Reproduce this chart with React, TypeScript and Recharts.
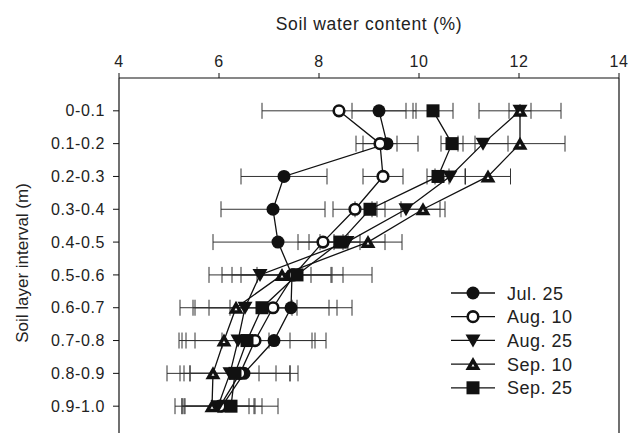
import React from 'react'
import {
  ScatterChart,
  Scatter,
  XAxis,
  YAxis,
  ErrorBar,
  ReferenceLine,
} from 'recharts'

const layers = ['0-0.1', '0.1-0.2', '0.2-0.3', '0.3-0.4', '0.4-0.5', '0.5-0.6', '0.6-0.7', '0.7-0.8', '0.8-0.9', '0.9-1.0']
const xTicks = [4, 6, 8, 10, 12, 14]

const jul25 = [9.2, 9.36, 7.3, 7.08, 7.18, 7.46, 7.44, 7.1, 6.5, 6.06]
const jul25Sd = [0.54, 0.62, 0.86, 1.04, 1.3, 1.02, 1.22, 1.04, 1.08, 0.8]
const aug10 = [8.4, 9.22, 9.28, 8.72, 8.08, 7.5, 7.08, 6.72, 6.42, 6.02]
const aug10Sd = [1.54, 0.34, 0.4, 0.44, 0.5, 0.74, 1.28, 1.2, 1.0, 0.7]
const aug25 = [12.02, 11.28, 10.62, 9.74, 8.56, 6.82, 6.52, 6.38, 6.22, 5.98]
const aug25Sd = [0.22, 0.5, 0.3, 0.68, 0.76, 1.02, 1.04, 1.04, 0.92, 0.72]
const sep10 = [12.02, 12.02, 11.38, 10.08, 8.98, 7.26, 6.34, 6.1, 5.88, 5.86]
const sep10Sd = [0.82, 0.9, 0.45, 0.44, 0.68, 1.0, 1.12, 0.9, 0.92, 0.74]
const sep25 = [10.28, 10.66, 10.38, 9.02, 8.42, 7.56, 6.86, 6.56, 6.32, 6.24]
const sep25Sd = [0.4, 0.22, 0.22, 0.3, 0.4, 1.5, 1.34, 1.3, 1.1, 0.94]

const toPoints = (vals: number[], sds: number[]) =>
  layers.map((_, i) => ({ x: vals[i], y: i + 1, err: sds[i] }))

const FONT = '"Liberation Sans", Arial, sans-serif'
const INK = '#111'
const TXT = '#222'

// marker shapes
const FilledCircle = ({ cx, cy }: any) => <circle cx={cx} cy={cy} r={6.5} fill={INK} />
const OpenCircle = ({ cx, cy }: any) => (
  <circle cx={cx} cy={cy} r={5.3} fill="#fff" stroke={INK} strokeWidth={2.6} />
)
const DownTri = ({ cx, cy }: any) => (
  <path d={`M${cx - 7.5},${cy - 6} L${cx + 7.5},${cy - 6} L${cx},${cy + 7} Z`} fill={INK} />
)
const UpTri = ({ cx, cy }: any) => (
  <g>
    <path d={`M${cx - 7.5},${cy + 6} L${cx + 7.5},${cy + 6} L${cx},${cy - 7} Z`} fill={INK} />
    <path d={`M${cx - 1.5},${cy + 2.5} L${cx + 1.5},${cy + 2.5} L${cx},${cy} Z`} fill="#fff" />
  </g>
)
const Square = ({ cx, cy }: any) => <rect x={cx - 6.5} y={cy - 6.5} width={13} height={13} fill={INK} />

const series = [
  { name: 'Jul. 25', data: toPoints(jul25, jul25Sd), Shape: FilledCircle },
  { name: 'Aug. 10', data: toPoints(aug10, aug10Sd), Shape: OpenCircle },
  { name: 'Aug. 25', data: toPoints(aug25, aug25Sd), Shape: DownTri },
  { name: 'Sep. 10', data: toPoints(sep10, sep10Sd), Shape: UpTri },
  { name: 'Sep. 25', data: toPoints(sep25, sep25Sd), Shape: Square },
]

const LegendBox = () => (
  <svg width={150} height={125} style={{ position: 'absolute', left: 449, top: 281 }}>
    {series.map((s, i) => {
      const y = 12 + i * 23.7
      const S = s.Shape
      return (
        <g key={s.name}>
          <line x1={2} x2={46} y1={y} y2={y} stroke={INK} strokeWidth={1.3} />
          <S cx={24} cy={y} />
          <text x={58} y={y + 6.5} fontSize={18} letterSpacing={0.5} fontFamily={FONT} fill={TXT}>
            {s.name}
          </text>
        </g>
      )
    })}
  </svg>
)

const YTitle = () => (
  <text
    x={22}
    y={263}
    transform="rotate(-90, 22, 263)"
    textAnchor="middle"
    dominantBaseline="central"
    fontSize={17}
    fontFamily={FONT}
    fill={TXT}
  >
    Soil layer interval (m)
  </text>
)

export default function App() {
  return (
    <div style={{ position: 'fixed', left: 0, top: 0, width: 630, height: 433, overflow: 'hidden', background: '#fff' }}>
      <ScatterChart width={630} height={445} margin={{ top: 48, right: 11, bottom: 6, left: 0 }}>
        <XAxis
          type="number"
          dataKey="x"
          orientation="top"
          domain={[4, 14]}
          ticks={xTicks}
          interval={0}
          height={30}
          tickSize={5}
          tickMargin={6}
          axisLine={{ stroke: INK, strokeWidth: 1.2 }}
          tickLine={{ stroke: INK }}
          tick={{ fill: TXT, fontSize: 16, fontFamily: FONT, letterSpacing: 0.6 }}
          label={{
            value: 'Soil water content (%)',
            position: 'top',
            offset: 18,
            fill: TXT,
            fontSize: 17.5,
            fontFamily: FONT,
            letterSpacing: 0.7,
          }}
        />
        <YAxis
          type="number"
          dataKey="y"
          domain={[0, 11]}
          reversed
          ticks={[1, 2, 3, 4, 5, 6, 7, 8, 9, 10]}
          interval={0}
          tickFormatter={(v: number) => layers[v - 1]}
          width={119}
          tickSize={6}
          tickMargin={8}
          axisLine={{ stroke: INK, strokeWidth: 1.2 }}
          tickLine={{ stroke: INK }}
          tick={{ fill: TXT, fontSize: 16, fontFamily: FONT, letterSpacing: 0.6 }}
          label={{ content: YTitle }}
        />
        <ReferenceLine x={14} stroke={INK} strokeWidth={1.2} />
        {series.map((s) => (
          <Scatter
            key={s.name}
            name={s.name}
            data={s.data}
            line={{ stroke: INK, strokeWidth: 1.3 }}
            shape={(p: any) => <s.Shape cx={p.cx} cy={p.cy} />}
            isAnimationActive={false}
          >
            <ErrorBar dataKey="err" direction="x" width={8} stroke="#333" strokeWidth={1} />
          </Scatter>
        ))}
      </ScatterChart>
      <LegendBox />
    </div>
  )
}
